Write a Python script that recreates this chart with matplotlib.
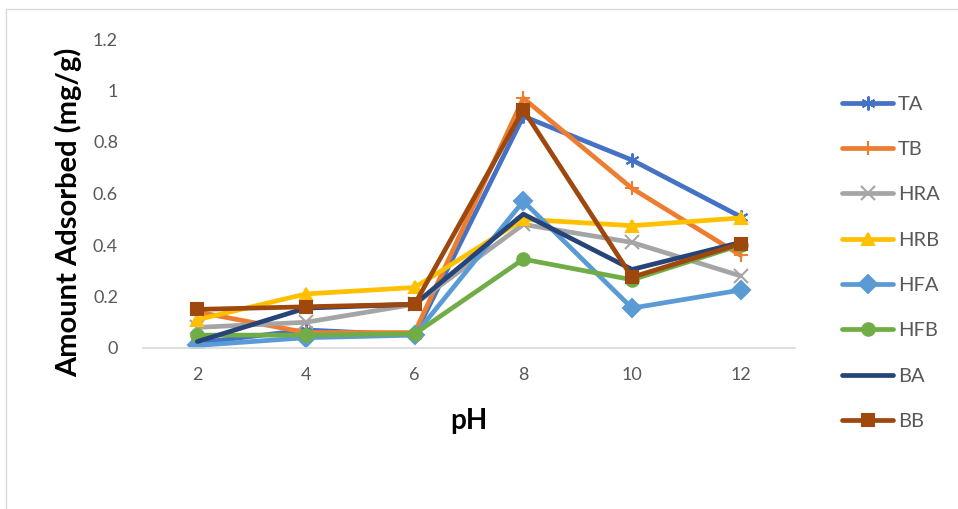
import matplotlib.pyplot as plt
from matplotlib.patches import Rectangle

# Data
ph = ['2', '4', '6', '8', '10', '12']
TA = [0.02, 0.07, 0.05, 0.90, 0.73, 0.51]
TB = [0.14, 0.06, 0.06, 0.97, 0.62, 0.36]
HRA = [0.08, 0.10, 0.17, 0.48, 0.41, 0.28]
HRB = [0.11, 0.21, 0.235, 0.50, 0.475, 0.505]
HFA = [0.01, 0.04, 0.05, 0.57, 0.155, 0.225]
HFB = [0.05, 0.05, 0.055, 0.345, 0.265, 0.40]
BA = [0.025, 0.155, 0.17, 0.52, 0.305, 0.41]
BB = [0.15, 0.16, 0.17, 0.925, 0.275, 0.405]

series = [
    ('TA', TA, '#4472C4', (6, 2, 0)),
    ('TB', TB, '#ED7D31', '+'),
    ('HRA', HRA, '#A5A5A5', 'x'),
    ('HRB', HRB, '#FFC000', '^'),
    ('HFA', HFA, '#5B9BD5', 'D'),
    ('HFB', HFB, '#70AD47', 'o'),
    ('BA', BA, '#264478', None),
    ('BB', BB, '#9E480E', 's'),
]

plt.rcParams['font.family'] = ['Lato', 'DejaVu Sans']

fig = plt.figure(figsize=(9.58, 5.09), dpi=100)
ax = fig.add_axes([143 / 958, 1 - 348 / 509, (795 - 143) / 958, (348 - 39) / 509])

x = list(range(len(ph)))
for name, vals, col, mk in series:
    ms = 9
    if mk in ('+', 'x') or isinstance(mk, tuple):
        ms = 10
    ax.plot(x, vals, color=col, lw=3.4, marker=mk, ms=ms, mew=1.5,
            mfc=col, mec=col, label=name, solid_capstyle='round')

ax.set_xlim(-0.5, len(ph) - 0.5)
ax.set_ylim(0, 1.2)
ax.set_xticks(x)
ax.set_xticklabels(ph)
ax.set_yticks([0, 0.2, 0.4, 0.6, 0.8, 1.0, 1.2])
ax.set_yticklabels(['0', '0.2', '0.4', '0.6', '0.8', '1', '1.2'])
ax.tick_params(length=0, labelsize=13, colors='#595959', pad=18)
ax.tick_params(axis='x', pad=14)
for s in ['top', 'right', 'left']:
    ax.spines[s].set_visible(False)
ax.spines['bottom'].set_color('#D9D9D9')
ax.spines['bottom'].set_linewidth(1.2)

ax.set_xlabel('pH', fontsize=20, fontweight='bold', labelpad=18)
ax.set_ylabel('Amount Adsorbed (mg/g)', fontsize=21, fontweight='bold')
ax.yaxis.set_label_coords(-0.094, 0.44)

ax.legend(loc='upper left', bbox_to_anchor=(1.045, 0.875), frameon=False,
          fontsize=14.5, labelcolor='#595959', handlelength=2.5,
          labelspacing=1.4, handletextpad=0.25)

# chart frame
fig.patches.append(Rectangle((6 / 958, -0.1), 1.1, 1 - 9 / 509 + 0.1,
                             transform=fig.transFigure, fill=False,
                             edgecolor='#D9D9D9', lw=1))

fig.savefig('out.png', dpi=100)
